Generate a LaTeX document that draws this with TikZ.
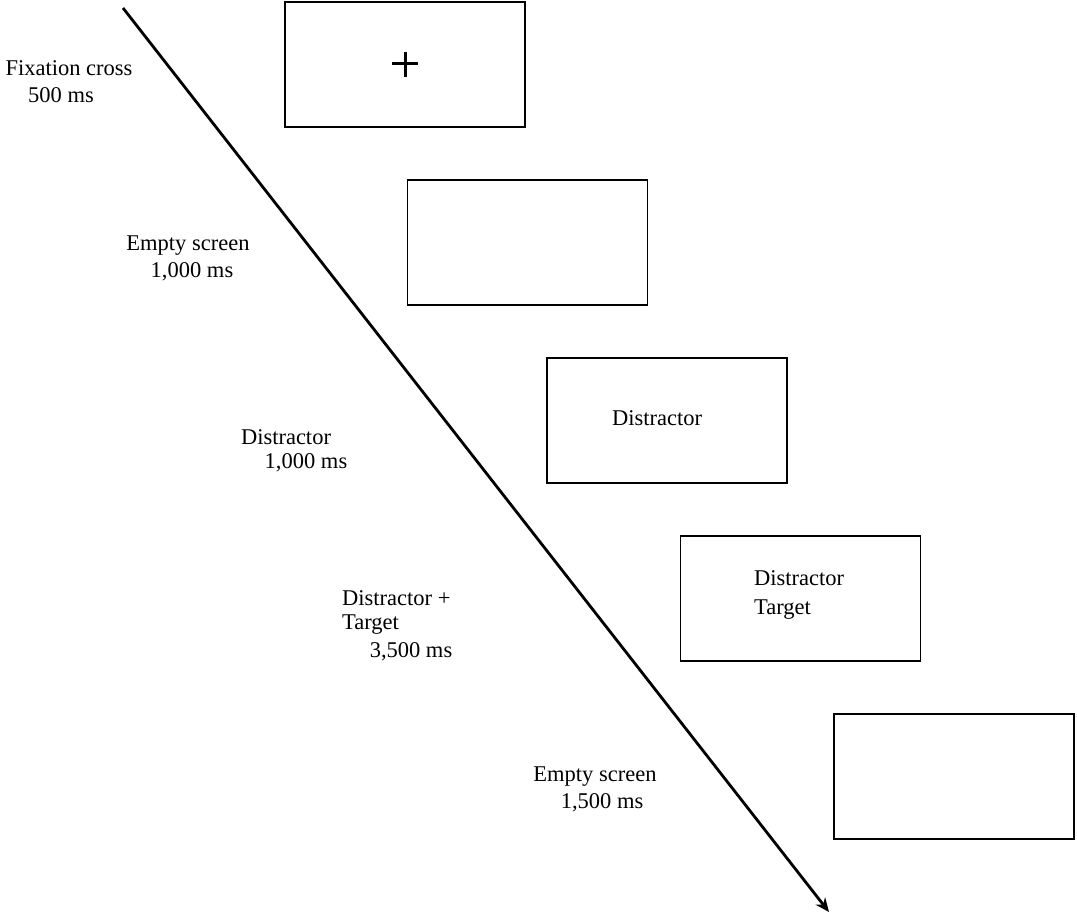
\documentclass[tikz,border=0pt]{standalone}
\usepackage{fontspec}
\setmainfont{Liberation Serif}
\usetikzlibrary{arrows.meta}
\begin{document}
\begin{tikzpicture}[x=1pt,y=-1pt,
  screen/.style={draw=black,line width=1.5pt,minimum width=240pt,minimum height=125pt,inner sep=0pt},
  lbl/.style={font=\fontsize{22.5}{27}\selectfont,inner sep=0pt},
  timeline/.style={line width=2.8pt,-{Stealth[length=14pt,width=12pt]}}]
\useasboundingbox (0,0) rectangle (1077,915);
% screens
\node[screen] (s1) at (405,64.5) {};
\node[screen] (s2) at (527.5,242.5) {};
\node[screen] (s3) at (667,420.5) {};
\node[screen] (s4) at (800.5,598.5) {};
\node[screen] (s5) at (954,776.5) {};
% fixation cross
\draw[line width=3pt] (392,64) -- (418,64);
\draw[line width=3pt] (405,52) -- (405,77);
% texts inside screens
\node[lbl] (t3) at (657,418) {Distractor};
\node[lbl,anchor=west] (t4a) at (754,578) {Distractor};
\node[lbl,anchor=west] (t4b) at (754,610) {Target};
% timeline
\coordinate (a0) at (123,8);
\coordinate (a1) at (829,912);
\draw[timeline] (a0) -- (a1);
% labels
\node[lbl] (l1a) at (69,68) {Fixation cross};
\node[lbl] (l1b) at (61,95) {500 ms};
\node[lbl] (l2a) at (188,246) {Empty screen};
\node[lbl] (l2b) at (192,272) {1,000 ms};
\node[lbl] (l3a) at (286,437) {Distractor};
\node[lbl] (l3b) at (306,463) {1,000 ms};
\node[lbl,anchor=west] (l4a) at (342,598) {Distractor +};
\node[lbl,anchor=west] (l4b) at (342,625) {Target};
\node[lbl] (l4c) at (411,652) {3,500 ms};
\node[lbl] (l5a) at (595,777) {Empty screen};
\node[lbl] (l5b) at (602,803) {1,500 ms};
\end{tikzpicture}
\end{document}
